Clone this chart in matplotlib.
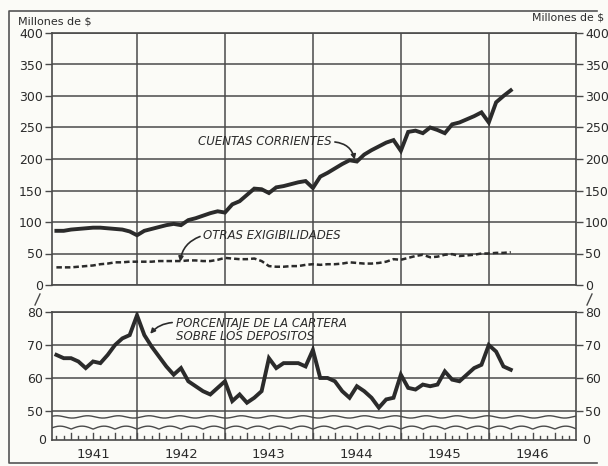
import numpy as np
import matplotlib
matplotlib.use("Agg")
import matplotlib.pyplot as plt
from matplotlib.lines import Line2D

# ---------------- data (monthly, Jan 1941 .. Mar 1946) ----------------
years = ["1941", "1942", "1943", "1944", "1945", "1946"]

cuentas_corrientes = [86, 86, 88, 89, 90, 91, 91, 90, 89, 88, 85, 79,
                      86, 89, 92, 95, 97, 95, 103, 106, 110, 114, 117, 115,
                      128, 133, 143, 153, 152, 146, 155, 157, 160, 163, 165, 154,
                      172, 178, 185, 192, 198, 196, 207, 214, 220, 226, 230, 213,
                      243, 245, 241, 250, 246, 241, 255, 258, 263, 268, 274, 258,
                      290, 300, 309]

otras_exigibilidades = [28, 28, 28, 29, 30, 31, 33, 34, 36, 36, 37, 37,
                        37, 37, 38, 38, 38, 38, 39, 39, 38, 38, 40, 43,
                        42, 41, 41, 42, 38, 30, 29, 29, 30, 30, 32, 33,
                        32, 33, 33, 34, 36, 35, 34, 34, 35, 37, 41, 40,
                        43, 46, 48, 44, 45, 48, 49, 46, 47, 48, 50, 50,
                        51, 51, 52]

porcentaje_cartera = [67, 66, 66, 65, 63, 65, 64.5, 67, 70, 72, 73, 79,
                      73, 69.5, 66.5, 63.5, 61, 63, 59, 57.5, 56, 55, 57, 59,
                      53, 55, 52.5, 54, 56, 66, 63, 64.5, 64.5, 64.5, 63.5, 68.5,
                      60, 60, 59, 56, 54, 57.5, 56, 54, 51, 53.5, 54, 61,
                      57, 56.5, 58, 57.5, 58, 62, 59.5, 59, 61, 63, 64, 70,
                      68, 63.5, 62.5]

top_ticks = [0, 50, 100, 150, 200, 250, 300, 350, 400]
bottom_ticks = [50, 60, 70, 80]

# month-end positions: 1 = end of Jan 1941
months = np.arange(1, len(cuentas_corrientes) + 1)
year_ends = [12, 24, 36, 48, 60]
year_centers = [6, 18, 30, 42, 54, 66]

# ---------------- style ----------------
INK = "#2b2b2b"
GRID = "#4a4a4a"
BG = "#fbfbf7"
plt.rcParams['font.family'] = ['DejaVu Sans']

W, H = 608, 466
fig = plt.figure(figsize=(W / 100, H / 100), dpi=100)
fig.patch.set_facecolor(BG)


def fr(x0, y0, x1, y1):
    return [x0 / W, 1 - y1 / H, (x1 - x0) / W, (y1 - y0) / H]


# outer frame (left, top, bottom)
fig.add_artist(Line2D([597 / W, 9 / W, 9 / W, 597 / W],
                      [1 - 11 / H, 1 - 11 / H, 1 - 463 / H, 1 - 463 / H],
                      transform=fig.transFigure, color="#555555", lw=1.2))

XL = (0.4, 71.9)
TICK_FS = 9

# ---------------- top panel ----------------
ax1 = fig.add_axes(fr(52, 33, 576, 285))
ax1.set_facecolor(BG)
ax1.set_xlim(*XL)
ax1.set_ylim(0, 400)
for v in top_ticks:
    ax1.axhline(v, color=GRID, lw=1.1, zorder=1)
for v in year_ends:
    ax1.axvline(v, color=GRID, lw=1.1, zorder=1)
ax1.plot(months, cuentas_corrientes, color=INK, lw=2.8, zorder=3,
         solid_joinstyle='miter')
ax1.plot(months, otras_exigibilidades, color=INK, lw=1.8, zorder=3,
         dashes=(2.2, 1.2))
ax1.set_xticks([])
ax1.set_yticks(top_ticks)
ax1.set_yticklabels([str(t) for t in top_ticks])
ax1.tick_params(axis='y', left=True, right=True, labelleft=True, labelright=True,
                direction='out', length=5, width=1.0, color=GRID, pad=1.5,
                labelsize=TICK_FS, labelcolor=INK)
for s in ax1.spines.values():
    s.set_color(GRID)
    s.set_linewidth(1.2)

ax1.text(38.6, 227, "CUENTAS CORRIENTES", ha='right', va='center',
         fontsize=8.5, style='italic', color=INK)
ax1.annotate('', xy=(41.7, 199), xytext=(39.0, 227),
             arrowprops=dict(arrowstyle='-|>', connectionstyle='arc3,rad=-0.35',
                             lw=1.2, color=INK, shrinkA=0, shrinkB=0,
                             mutation_scale=7))
ax1.text(21.0, 78, "OTRAS EXIGIBILIDADES", ha='left', va='center',
         fontsize=8.5, style='italic', color=INK)
ax1.annotate('', xy=(17.9, 37), xytext=(20.6, 77),
             arrowprops=dict(arrowstyle='-|>', connectionstyle='arc3,rad=0.3',
                             lw=1.2, color=INK, shrinkA=0, shrinkB=0,
                             mutation_scale=7))

# ---------------- bottom panel ----------------
ax2 = fig.add_axes(fr(52, 312, 576, 440))
ax2.set_facecolor(BG)
ax2.set_xlim(*XL)
ax2.set_ylim(41.2, 80)
for v in bottom_ticks:
    ax2.axhline(v, color=GRID, lw=1.1, zorder=1)
for v in year_ends:
    ax2.axvline(v, color=GRID, lw=1.1, zorder=1)
ax2.plot(months, porcentaje_cartera, color=INK, lw=2.8, zorder=3,
         solid_joinstyle='miter')

# axis-break waves
xx = np.linspace(XL[0], XL[1], 600)
ax2.plot(xx, 48.2 + 0.35 * np.sin(2 * np.pi * xx / 4.2), color=GRID, lw=1.0, zorder=2)
ax2.plot(xx, 44.5 + 0.9 * np.abs(np.sin(np.pi * xx / 3.0)), color=GRID, lw=1.0, zorder=2)

# month ruler
tr = ax2.get_xaxis_transform()
for m in range(1, 72):
    h = 0.055 if m % 3 == 0 else 0.03
    ax2.plot([m, m], [0, h], color=GRID, lw=1.0, transform=tr, zorder=2)

ax2.set_yticks(bottom_ticks)
ax2.set_yticklabels([str(t) for t in bottom_ticks])
ax2.tick_params(axis='y', left=True, right=True, labelleft=True, labelright=True,
                direction='out', length=5, width=1.0, color=GRID, pad=1.5,
                labelsize=TICK_FS, labelcolor=INK)
ax2.set_xticks(year_centers)
ax2.set_xticklabels(years)
ax2.tick_params(axis='x', length=0, pad=6, labelsize=9.5, labelcolor=INK)
for s in ax2.spines.values():
    s.set_color(GRID)
    s.set_linewidth(1.2)

ax2.text(-0.012, 0.0, "0", transform=ax2.transAxes, ha='right', va='center',
         fontsize=TICK_FS, color=INK)
ax2.text(1.012, 0.0, "0", transform=ax2.transAxes, ha='left', va='center',
         fontsize=TICK_FS, color=INK)

ax2.text(17.3, 76.6, "PORCENTAJE DE LA CARTERA", ha='left', va='center',
         fontsize=8.5, style='italic', color=INK)
ax2.text(17.3, 72.6, "SOBRE LOS DEPOSITOS", ha='left', va='center',
         fontsize=8.5, style='italic', color=INK)
ax2.annotate('', xy=(13.8, 73.4), xytext=(16.8, 76.8),
             arrowprops=dict(arrowstyle='-|>', connectionstyle='arc3,rad=0.2',
                             lw=1.2, color=INK, shrinkA=0, shrinkB=0,
                             mutation_scale=7))

# break slashes between panels
fig.add_artist(Line2D([35 / W, 40 / W], [1 - 305 / H, 1 - 294 / H],
                      transform=fig.transFigure, color=GRID, lw=1.0))
fig.add_artist(Line2D([587 / W, 592 / W], [1 - 305 / H, 1 - 294 / H],
                      transform=fig.transFigure, color=GRID, lw=1.0))

# unit labels
fig.text(18 / W, 1 - 22 / H, "Millones de $", ha='left', va='center',
         fontsize=8, color=INK)
fig.text(604 / W, 1 - 18 / H, "Millones de $", ha='right', va='center',
         fontsize=7.8, color=INK)

fig.savefig("out.png", dpi=100, facecolor=BG)
